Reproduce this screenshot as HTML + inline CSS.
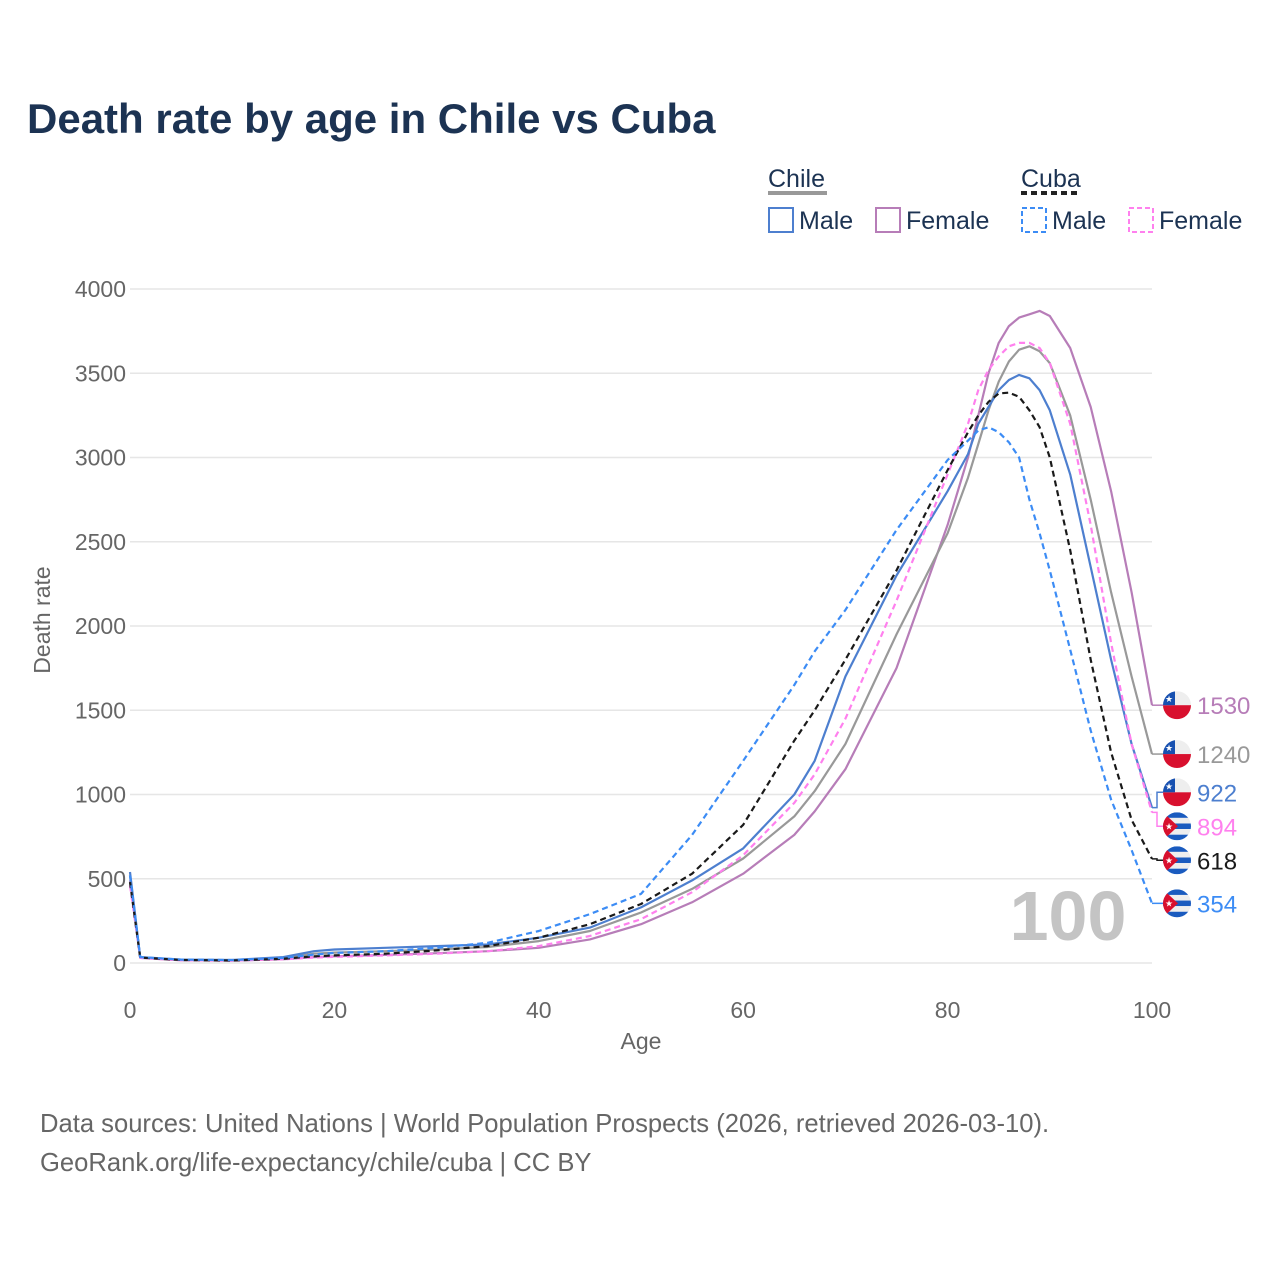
<!DOCTYPE html>
<html><head><meta charset="utf-8">
<style>
body{margin:0;background:#fff;font-family:"Liberation Sans",sans-serif;}
#wrap{position:relative;width:1280px;height:1280px;overflow:hidden;}
</style></head>
<body>
<div id="wrap">
<svg id="chart" width="1280" height="1280" xmlns="http://www.w3.org/2000/svg">
<defs>
<clipPath id="cc"><circle cx="0" cy="0" r="14"/></clipPath>
</defs>
<text x="27" y="133" font-size="42" font-weight="bold" fill="#1c3353">Death rate by age in Chile vs Cuba</text>
<g font-size="25" fill="#1c3353">
<text x="768" y="187">Chile</text>
<line x1="768" y1="193" x2="827" y2="193" stroke="#999" stroke-width="4"/>
<text x="1021" y="187">Cuba</text>
<line x1="1021" y1="193" x2="1081" y2="193" stroke="#222" stroke-width="4" stroke-dasharray="6,4"/>
<g><rect x="769" y="208" width="24" height="24" fill="none" stroke="#4d7fcf" stroke-width="2"/><text x="799" y="229">Male</text></g>
<g><rect x="876" y="208" width="24" height="24" fill="none" stroke="#b77db8" stroke-width="2"/><text x="906" y="229">Female</text></g>
<g><rect x="1022" y="208" width="24" height="24" fill="none" stroke="#3c8cf5" stroke-width="2" stroke-dasharray="5,3"/><text x="1052" y="229">Male</text></g>
<g><rect x="1129" y="208" width="24" height="24" fill="none" stroke="#ff80ee" stroke-width="2" stroke-dasharray="5,3"/><text x="1159" y="229">Female</text></g>
</g>
<g id="grid"></g>
<text x="1068" y="940" font-size="70" font-weight="bold" fill="#c4c4c4" text-anchor="middle">100</text>
<g id="series"></g>
<g id="labels"></g>
<text x="641" y="1049" font-size="23" fill="#666" text-anchor="middle">Age</text>
<text transform="translate(50,620) rotate(-90)" font-size="23" fill="#666" text-anchor="middle">Death rate</text>
<text x="40" y="1132" font-size="25.6" fill="#666">Data sources: United Nations | World Population Prospects (2026, retrieved 2026-03-10).</text>
<text x="40" y="1171" font-size="25.6" fill="#666">GeoRank.org/life-expectancy/chile/cuba | CC BY</text>
</svg>
</div>
<script>
const ages = [0,1,5,10,15,18,20,25,30,35,40,45,50,55,60,65,67,70,75,80,82,83,84,85,86,87,88,89,90,92,94,96,98,100];
const chileMale   = [540,35,20,18,35,70,80,90,100,110,150,210,330,490,680,1000,1200,1700,2300,2800,3020,3200,3300,3400,3460,3490,3470,3400,3280,2900,2350,1800,1300,922];
const chileTotal  = [520,33,18,16,30,55,62,70,80,95,130,190,300,440,620,870,1020,1300,1950,2550,2880,3080,3280,3450,3570,3640,3660,3630,3560,3250,2750,2200,1700,1240];
const chileFemale = [490,30,16,14,22,35,40,48,58,70,90,140,230,360,530,760,900,1150,1750,2600,3000,3250,3500,3680,3780,3830,3850,3870,3840,3650,3300,2800,2200,1530];
const cubaMale    = [520,35,20,18,30,50,60,70,90,120,190,290,410,760,1200,1650,1850,2095,2570,2985,3100,3160,3180,3150,3090,3000,2750,2550,2330,1860,1380,970,670,354];
const cubaTotal   = [480,32,18,15,25,40,45,55,75,100,150,230,350,530,820,1320,1500,1800,2330,2925,3150,3250,3330,3380,3385,3360,3280,3180,3000,2450,1800,1250,850,618];
const cubaFemale  = [460,30,16,14,22,32,36,45,55,70,100,160,260,420,640,950,1120,1450,2150,2900,3200,3400,3520,3600,3660,3680,3680,3650,3560,3200,2600,1900,1300,894];
const yTicks = [0,500,1000,1500,2000,2500,3000,3500,4000];
const xTicks = [0,20,40,60,80,100];

const NS='http://www.w3.org/2000/svg';
const X=a=>130+a*(1152-130)/100;
const Y=v=>963-v*(963-289)/4000;
function mk(t,at,p){const e=document.createElementNS(NS,t);for(const k in at)e.setAttribute(k,at[k]);p.appendChild(e);return e;}
const grid=document.getElementById('grid');
yTicks.forEach(v=>{
  const l=mk('line',{x1:130,x2:1152,y1:Y(v),y2:Y(v),stroke:'#e6e6e6','stroke-width':1.5},grid);
  
  
  const t=mk('text',{x:126,y:Y(v)+8,'font-size':23,fill:'#666','text-anchor':'end'},grid);
  t.textContent=v;
  
  
});
xTicks.forEach(v=>{
  const t=mk('text',{x:X(v),y:1018,'font-size':23,fill:'#666','text-anchor':'middle'},grid);
  t.textContent=v;
  
  
});
const series=[
 {name:'chile-female',d:chileFemale,c:'#b77db8',dash:null,flag:'cl'},
 {name:'chile-total',d:chileTotal,c:'#999999',dash:null,flag:'cl'},
 {name:'chile-male',d:chileMale,c:'#4d7fcf',dash:null,flag:'cl'},
 {name:'cuba-female',d:cubaFemale,c:'#ff80ee',dash:'6,4',flag:'cu'},
 {name:'cuba-total',d:cubaTotal,c:'#1a1a1a',dash:'6,4',flag:'cu'},
 {name:'cuba-male',d:cubaMale,c:'#3c8cf5',dash:'6,4',flag:'cu'}
];
const sg=document.getElementById('series');
series.forEach(s=>{
  const pts=s.d.map((v,i)=>X(ages[i]).toFixed(1)+','+Y(v).toFixed(1)).join(' ');
  const at={points:pts,fill:'none',stroke:s.c,'stroke-width':2.2,'stroke-linejoin':'round'};
  if(s.dash)at['stroke-dasharray']=s.dash;
  const p=mk('polyline',at,sg);
  
  
});
const last=series.map(s=>({s,v:s.d[s.d.length-1],y:Y(s.d[s.d.length-1])})).sort((a,b)=>a.y-b.y);
let groups=last.map(l=>({items:[l],c:l.y}));
const gap=34;
let changed=true;
while(changed){changed=false;
  for(let i=0;i<groups.length-1;i++){
    const a=groups[i],b=groups[i+1];
    const aBot=a.c+(a.items.length-1)*gap/2, bTop=b.c-(b.items.length-1)*gap/2;
    if(bTop-aBot<gap){
      const items=a.items.concat(b.items);
      const c=items.reduce((s,l)=>s+l.y,0)/items.length;
      groups.splice(i,2,{items,c});changed=true;break;
    }
  }
}
const lg=document.getElementById('labels');
groups.forEach(g=>g.items.forEach((l,k)=>{
  const ly=g.c+(k-(g.items.length-1)/2)*gap;
  const con=mk('polyline',{points:`1152,${l.y} 1157,${l.y} 1157,${ly} 1163,${ly}`,fill:'none',stroke:l.s.c,'stroke-width':1.5},lg);
  
  
  const f=mk('g',{transform:`translate(1177,${ly})`,'clip-path':'url(#cc)'},lg);
  
  
  if(l.s.flag==='cl'){
    mk('rect',{x:-14,y:-14,width:28,height:14,fill:'#eee'},f);
    mk('rect',{x:-14,y:0,width:28,height:14,fill:'#d8102e'},f);
    mk('rect',{x:-14,y:-14,width:12,height:14,fill:'#1750b0'},f);
    mk('text',{x:-8,y:-3,'font-size':9,fill:'#fff','text-anchor':'middle'},f).textContent='★';
  }else{
    for(let i=0;i<5;i++)mk('rect',{x:-14,y:-14+i*5.6,width:28,height:5.6,fill:i%2?'#eee':'#1a5bbf'},f);
    mk('polygon',{points:'-14,-14 1,0 -14,14',fill:'#d8102e'},f);
    mk('text',{x:-8,y:3,'font-size':9,fill:'#fff','text-anchor':'middle'},f).textContent='★';
  }
  const t=mk('text',{x:1197,y:ly+9,'font-size':24,fill:l.s.c},lg);
  t.textContent=l.v;
  
  
}));
</script>
</body></html>
